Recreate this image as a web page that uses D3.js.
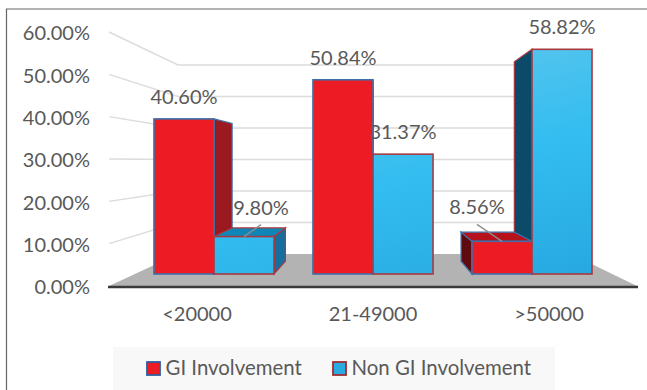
<!DOCTYPE html>
<html>
<head>
<meta charset="utf-8">
<script src="https://cdn.jsdelivr.net/npm/d3@7"></script>
<style>
  html, body { margin: 0; padding: 0; background: #fff; }
  svg { display: block; }
  text { font-family: Lato, "Open Sans", sans-serif; fill: #595959; }
</style>
</head>
<body>
<div id="chart"></div>
<script>
const categories = ["<20000", "21-49000", ">50000"];
const seriesNames = ["GI Involvement", "Non GI Involvement"];
const giValues = [40.60, 50.84, 8.56];
const nonGiValues = [9.80, 31.37, 58.82];
const yTicks = [0, 10, 20, 30, 40, 50, 60];

const W = 647, H = 390;
const fontSize = "20px";

let svg = d3.select("#chart").append("svg")
  .attr("width", W)
  .attr("height", H);

//3 y scales: one on the axis, one on the back wall, one on the front of the bars
let yAxisScale = d3.scaleLinear().domain([0, 60]).range([286, 32]);
let yWall = d3.scaleLinear().domain([0, 60]).range([254, 65]);
let yFront = d3.scaleLinear().domain([0, 60]).range([274, 44.8]);

let xLabels = d3.scaleBand().domain(categories).range([109, 637]);
let xGroup = d3.scaleBand().domain(categories).range([134.5, 611.5])
  .paddingInner(0.245).paddingOuter(0.1225);
let xBar = d3.scaleBand().domain(seriesNames).range([0, xGroup.bandwidth()]);

//everything recedes towards this point
const vanish = [375, 160];
const depth = 0.1125;
function back(p) {
  return [p[0] + (vanish[0] - p[0]) * depth, p[1] + (vanish[1] - p[1]) * depth];
}
function poly(pts) { return pts.map(function(p) { return p.join(","); }).join(" "); }

//one gradient over the full chart height, so short bars only get the darker end
let defs = svg.append("defs");
let grad = defs.append("linearGradient").attr("id", "blueFront")
  .attr("gradientUnits", "userSpaceOnUse")
  .attr("x1", 540).attr("y1", yFront(60)).attr("x2", 600).attr("y2", yFront(0));
grad.append("stop").attr("offset", "0%").attr("stop-color", "#52c4ee");
grad.append("stop").attr("offset", "40%").attr("stop-color", "#33bdf0");
grad.append("stop").attr("offset", "100%").attr("stop-color", "#27a8e0");

//frame
svg.append("path")
  .attr("d", "M6.5," + H + "V9H" + W)
  .attr("fill", "none")
  .attr("stroke", "#666")
  .attr("stroke-width", 1.2);

//Floor
svg.append("polygon")
  .attr("points", poly([[109, 286], [178, 254], [571, 254], [637, 286]]))
  .attr("fill", "#b3b3b3");

//Grid lines on the side wall and the back wall
let grid = svg.append("g").attr("fill", "none").attr("stroke", "#dcdcdc").attr("stroke-width", 1.4);
grid.selectAll("polyline")
  .data(yTicks.filter(function(d) { return d > 0; }))
  .enter().append("polyline")
  .attr("points", function(d) {
    return poly([[109, yAxisScale(d)], [178, yWall(d)], [571, yWall(d)]]);
  });

//Base line
svg.append("line")
  .attr("x1", 108).attr("x2", 638)
  .attr("y1", 287).attr("y2", 287)
  .attr("stroke", "#3a3a3a")
  .attr("stroke-width", 2.4);

//Y axis labels
let yAxis = d3.axisLeft(yAxisScale)
  .tickValues(yTicks)
  .tickSize(0)
  .tickPadding(0)
  .tickFormat(function(d) { return d3.format(".2f")(d) + "%"; });
let yG = svg.append("g").attr("transform", "translate(90,1.5)").call(yAxis);
yG.select(".domain").remove();
yG.selectAll("text").style("font-size", fontSize).style("fill", "#595959");

//X axis labels
let xAxis = d3.axisBottom(xLabels).tickSize(0).tickPadding(0);
let xG = svg.append("g").attr("transform", "translate(0,307)").call(xAxis);
xG.select(".domain").remove();
xG.selectAll("text").style("font-size", fontSize).style("fill", "#595959");

//Bars
let bars = [];
categories.forEach(function(c, i) {
  bars.push({cat: c, name: seriesNames[0], val: giValues[i], group: i});
  bars.push({cat: c, name: seriesNames[1], val: nonGiValues[i], group: i});
});
bars.forEach(function(d) {
  d.x0 = xGroup(d.cat) + xBar(d.name);
  d.x1 = d.x0 + xBar.bandwidth();
  d.y0 = yFront(0);
  d.y1 = yFront(d.val);
  d.isGi = d.name === seriesNames[0];
  d.stroke = d.isGi ? "#3f6fa8" : "#a8393f";
});

//Shades of the side and top faces
function sideColor(d) {
  if (d.isGi) return d.group === 2 ? "#5e0a0e" : "#9b1a1f";
  return d.group === 2 ? "#0b4a68" : "#146f9e";
}
function topColor(d) {
  return d.isGi ? "#b5121b" : "#0f86b8";
}

//Side and top faces first, the bars furthest from the middle go first
let depthOrder = bars.slice().sort(function(a, b) {
  return Math.abs(vanish[0] - (b.x0 + b.x1) / 2) - Math.abs(vanish[0] - (a.x0 + a.x1) / 2);
});
let faces = svg.append("g");
depthOrder.forEach(function(d) {
  let sx = d.x0 > vanish[0] ? d.x0 : d.x1;
  //only the side turned to the vanishing point can be seen
  if ((d.x0 > vanish[0] || d.x1 < vanish[0])) {
    faces.append("polygon")
      .attr("points", poly([[sx, d.y1], back([sx, d.y1]), back([sx, d.y0]), [sx, d.y0]]))
      .attr("fill", sideColor(d))
      .attr("stroke", d.stroke).attr("stroke-width", 1.2);
  }
  if (d.y1 > vanish[1]) {
    faces.append("polygon")
      .attr("points", poly([[d.x0, d.y1], back([d.x0, d.y1]), back([d.x1, d.y1]), [d.x1, d.y1]]))
      .attr("fill", topColor(d))
      .attr("stroke", d.stroke).attr("stroke-width", 1.2);
  }
});

//Front faces
svg.append("g").selectAll("rect")
  .data(bars)
  .enter().append("rect")
  .attr("x", function(d) { return d.x0; })
  .attr("y", function(d) { return d.y1; })
  .attr("width", function(d) { return d.x1 - d.x0; })
  .attr("height", function(d) { return d.y0 - d.y1; })
  .attr("fill", function(d) { return d.isGi ? "#ed1c24" : "url(#blueFront)"; })
  .attr("stroke", function(d) { return d.stroke; })
  .attr("stroke-width", 1.6);

//Value labels, the two small bars get theirs moved aside with a leader line
function labelX(d) {
  let c = (d.x0 + d.x1) / 2;
  if (d.val < 10) return d.isGi ? c - 25 : c + 17;
  return c;
}
function labelY(d) {
  if (d.val < 10) return d.y1 - (d.isGi ? 27 : 22);
  return d.y1 - 15;
}
svg.append("g").selectAll("line")
  .data(bars.filter(function(d) { return d.val < 10; }))
  .enter().append("line")
  .attr("x1", function(d) { return labelX(d); })
  .attr("y1", function(d) { return labelY(d) + 10; })
  .attr("x2", function(d) { return (d.x0 + d.x1) / 2; })
  .attr("y2", function(d) { return d.y1; })
  .attr("stroke", "#8c8c8c")
  .attr("stroke-width", 1.4);

svg.append("g").selectAll("text")
  .data(bars)
  .enter().append("text")
  .attr("x", labelX)
  .attr("y", labelY)
  .attr("text-anchor", "middle")
  .style("font-size", fontSize)
  .text(function(d) { return d3.format(".2f")(d.val) + "%"; });

//Legend
svg.append("rect")
  .attr("x", 113).attr("y", 347)
  .attr("width", 442).attr("height", 43)
  .attr("fill", "#f8f8f8");

let legendX = [147, 333];
let legend = svg.append("g").selectAll("g")
  .data(seriesNames)
  .enter().append("g")
  .attr("transform", function(d, i) { return "translate(" + legendX[i] + ",368)"; });
legend.append("rect")
  .attr("y", -6)
  .attr("width", 13).attr("height", 13)
  .attr("fill", function(d, i) { return i === 0 ? "#ed1c24" : "#29abe2"; })
  .attr("stroke", function(d, i) { return i === 0 ? "#2f5f9e" : "#a02c30"; })
  .attr("stroke-width", 1.8);
legend.append("text")
  .attr("x", 18.5)
  .attr("y", 7)
  .style("font-size", "20.4px")
  .text(function(d) { return d; });
</script>
</body>
</html>
